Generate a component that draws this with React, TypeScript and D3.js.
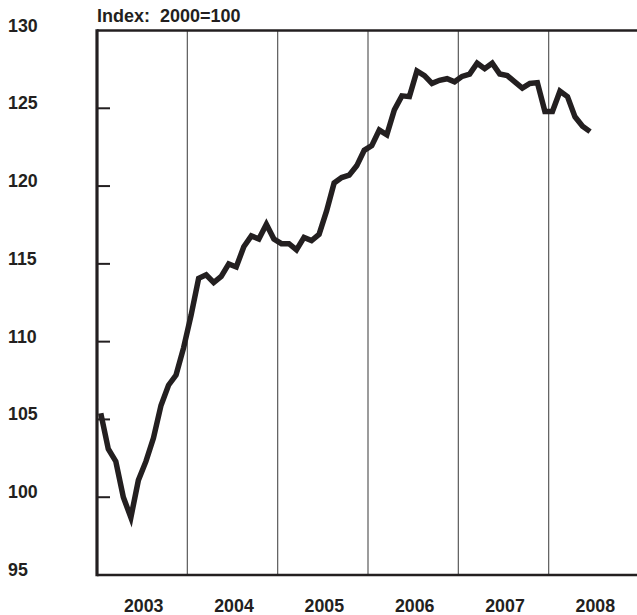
import React from "react";
import * as d3 from "d3";

const startYear = 2003;
const yearLabels = ["2003", "2004", "2005", "2006", "2007", "2008"];
const yTicks = [95, 100, 105, 110, 115, 120, 125, 130];
const innerTicks = [100, 105, 110, 115, 120, 125];
const titleText = "Index:\u00a0 2000=100";

// Monthly index values, Jan 2003 .. Jun 2008
const indexValues = [
  105.4, 103.1, 102.3, 100.0, 98.7, 101.1, 102.3, 103.8, 105.9, 107.2, 107.85, 109.6,
  111.7, 114.07, 114.3, 113.8, 114.2, 115.0, 114.8, 116.1, 116.8, 116.6, 117.55, 116.6,
  116.3, 116.3, 115.9, 116.7, 116.5, 116.9, 118.4, 120.2, 120.55, 120.7, 121.3, 122.3,
  122.6, 123.6, 123.3, 124.9, 125.8, 125.75, 127.4, 127.1, 126.6, 126.8, 126.9, 126.7,
  127.05, 127.2, 127.9, 127.55, 127.9, 127.2, 127.1, 126.7, 126.3, 126.6, 126.65, 124.8,
  124.8, 126.1, 125.75, 124.45, 123.85, 123.5,
];

const W = 637;
const H = 615;
const left = 97;
const right = 639;
const top = 30.5;
const bottom = 575;
const ink = "#231f20";
const font = "'Liberation Sans', Arial, Helvetica, sans-serif";

export default function App() {
  const x = d3.scaleLinear().domain([startYear, startYear + 6]).range([left, right]);
  const y = d3.scaleLinear().domain([95, 130]).range([bottom, top]);

  const pts: [number, number][] = indexValues.map((v, i) => [startYear + (i + 0.5) / 12, v]);
  const line = d3
    .line<[number, number]>()
    .x((d) => x(d[0]))
    .y((d) => y(d[1]));

  const dividers = yearLabels.slice(1).map((_, i) => startYear + i + 1);

  return (
    <svg
      width={W}
      height={H}
      style={{ position: "absolute", left: 0, top: 0, background: "#fff" }}
    >
      {dividers.map((yr) => (
        <line
          key={yr}
          x1={x(yr)}
          x2={x(yr)}
          y1={top}
          y2={bottom}
          stroke="#5a5a5a"
          strokeWidth={1.2}
        />
      ))}
      <line x1={left} x2={W} y1={top} y2={top} stroke={ink} strokeWidth={2.7} />
      <line x1={left} x2={W} y1={bottom} y2={bottom} stroke={ink} strokeWidth={2.7} />
      <line x1={left} x2={left} y1={top - 1.3} y2={bottom + 1.3} stroke={ink} strokeWidth={3.2} />
      {innerTicks.map((t) => (
        <line key={t} x1={left} x2={110} y1={y(t)} y2={y(t)} stroke={ink} strokeWidth={2} />
      ))}
      {yTicks.map((t) => (
        <text
          key={t}
          x={8}
          y={y(t) + 1}
          fontFamily={font}
          fontSize={17.8}
          fontWeight="bold"
          fill={ink}
        >
          {t}
        </text>
      ))}
      <text x={97} y={21.7} fontFamily={font} fontSize={18} fontWeight="bold" fill={ink}>
        {titleText}
      </text>
      {yearLabels.map((lab, i) => (
        <text
          key={lab}
          x={x(startYear + i + 0.5) + 1.5}
          y={612}
          textAnchor="middle"
          fontFamily={font}
          fontSize={17.8}
          fontWeight="bold"
          fill={ink}
        >
          {lab}
        </text>
      ))}
      <path d={line(pts) || ""} fill="none" stroke={ink} strokeWidth={5.5} strokeLinejoin="miter" />
    </svg>
  );
}
